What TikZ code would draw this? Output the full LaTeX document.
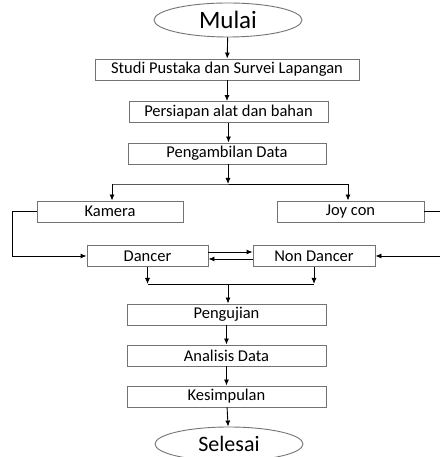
\documentclass[tikz,border=0pt]{standalone}
\usepackage{fontspec}
\setmainfont{Carlito}
\usetikzlibrary{shapes.geometric,arrows.meta}
\begin{document}
\begin{tikzpicture}[x=1pt, y=1pt,
    kotak/.style={draw=black!55, line width=0.9pt, minimum height=21pt, inner sep=0pt, font=\fontsize{16.5}{19}\selectfont},
    oval/.style={ellipse, draw=black!55, line width=0.9pt, minimum width=148pt, minimum height=34pt, inner sep=0pt, font=\fontsize{22}{26}\selectfont},
    panah/.style={-{Latex[length=6pt,width=5pt]}, line width=0.9pt}]
            \useasboundingbox (0,0) rectangle (439,457);
            \node[oval, font=\fontsize{25}{28}\selectfont] (mulai) at (228,437) {Mulai};
            \node[kotak, minimum width=264pt] (studi) at (227,387.5) {Studi Pustaka dan Survei Lapangan};
            \node[kotak, minimum width=199pt] (alat) at (228.5,345) {Persiapan alat dan bahan};
            \node[kotak, minimum width=198pt] (ambil) at (227,303.5) {Pengambilan Data};
            \node[kotak, minimum width=146pt] (kamera) at (110,245.5) {Kamera};
            \node[kotak, minimum width=147pt] (joycon) at (350.5,245.5) {Joy con};
            \node[kotak, minimum width=121pt] (dancer) at (147.5,201) {Dancer};
            \node[kotak, minimum width=122pt] (nondancer) at (314,201) {Non Dancer};
            \node[kotak, minimum width=199pt] (uji) at (226.5,142.5) {Pengujian};
            \node[kotak, minimum width=199pt] (analisis) at (226.5,101.5) {Analisis Data};
            \node[kotak, minimum width=199pt] (simpul) at (226.5,60.5) {Kesimpulan};
            \node[oval] (selesai) at (229,13) {Selesai};
            \coordinate (cabang) at (228,273);
            \coordinate (gabung) at (228,173);
            % alur utama
            \draw[panah] (mulai) -- (studi);
            \draw[panah] (studi) -- (studi |- alat.north);
            \draw[panah] (alat) -- (alat |- ambil.north);
            \draw[panah] (ambil.south -| cabang) -- (cabang);
            \draw[line width=0.9pt] (cabang) -- ++(-116,0) coordinate (kiri) -- ++(236,0) coordinate (kanan);
            \draw[panah] (kiri) -- (kiri |- kamera.north);
            \draw[panah] (kanan) -- (kanan |- joycon.north);
            \draw[panah] (kamera.west) -- ++(-24,0) |- (dancer.west);
            \draw[panah] (joycon.east) -- ++(25,0) |- (nondancer.east);
            \draw[panah] ([yshift=4pt]dancer.east) -- ([yshift=4pt]nondancer.west);
            \draw[panah] ([yshift=-3pt]nondancer.west) -- ([yshift=-3pt]dancer.east);
            \draw[panah] (dancer.south) -- (dancer.south |- gabung);
            \draw[panah] (nondancer.south) -- (nondancer.south |- gabung);
            \draw[line width=0.9pt] (dancer.south |- gabung) -- (nondancer.south |- gabung);
            \draw[panah] (gabung) -- (gabung |- uji.north);
            \draw[panah] (uji) -- (analisis);
            \draw[panah] (analisis) -- (simpul);
            \draw[panah] (simpul) -- (selesai);
        \end{tikzpicture}
\end{document}
